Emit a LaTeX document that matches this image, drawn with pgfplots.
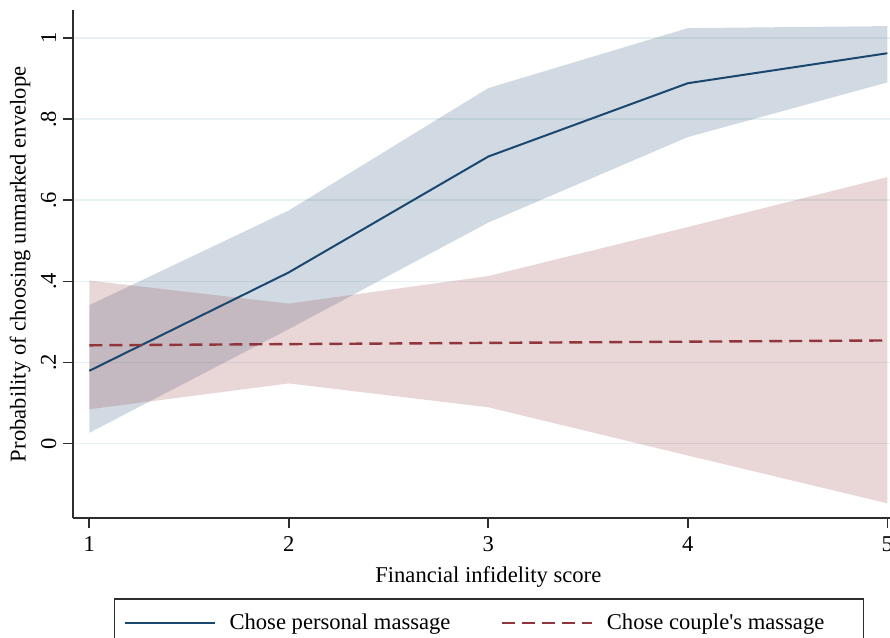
\documentclass[border=0pt]{standalone}
\usepackage{fontspec}
\setmainfont{Liberation Serif}
\newfontfamily\nomap{Liberation Serif}
\usepackage{pgfplots}
\pgfplotsset{compat=1.18}
\definecolor{navy}{RGB}{26,71,111}
\definecolor{maroon}{RGB}{144,53,59}
\definecolor{gridc}{RGB}{231,241,243}
\definecolor{axc}{RGB}{45,45,45}
\newcommand{\fs}{\fontsize{11.3}{13.5}\selectfont}
\begin{document}
\begin{tikzpicture}
\begin{axis}[
 name=ax, at={(0,0)}, anchor=south west,
 scale only axis, width=415pt, height=254pt,
 xmin=0.92, xmax=5.08, ymin=-0.185, ymax=1.069,
 axis x line*=bottom, axis y line*=left,
 axis line style={axc, line width=0.9pt, -},
 xtick={1,2,3,4,5}, ytick={0,0.2,0.4,0.6,0.8,1},
 yticklabels={0,.2,.4,.6,.8,1},
 tick align=outside, major tick length=5pt,
 tick style={axc, line width=0.8pt},
 ymajorgrids, major grid style={gridc, line width=0.8pt},
 tick label style={font=\fs},
 /pgf/number format/assume math mode=true,
 yticklabel style={rotate=90, anchor=south},
 xticklabel style={yshift=-0.5pt},
 xlabel={Financial infidelity score},
 ylabel={Probability of choosing unmarked envelope},
 label style={font=\fs},
 xlabel style={at={(axis description cs:0.5,-0.1156)}, anchor=center},
 ylabel style={at={(axis description cs:-0.0642,0.5)}, anchor=center},
 legend style={at={(0.049,-0.1575)}, anchor=north west, draw=axc, line width=0.6pt,
   font=\fs, inner xsep=4.5pt, inner ysep=5.5pt,
   /tikz/every odd column/.append style={column sep=5pt},
   /tikz/every even column/.append style={column sep=23pt}},
 legend columns=2, legend cell align=left,
 legend image code/.code={\draw[#1] (0pt,0pt) -- (45pt,0pt);},
]
% blue CI
\addplot[draw=none, fill=navy, fill opacity=0.2, forget plot] coordinates {
 (1,0.341) (2,0.575) (3,0.877) (4,1.025) (5,1.030)
 (5,0.891) (4,0.756) (3,0.545) (2,0.282) (1,0.026)} -- cycle;
% red CI
\addplot[draw=none, fill=maroon, fill opacity=0.2, forget plot] coordinates {
 (1,0.402) (2,0.345) (3,0.413) (4,0.534) (5,0.657)
 (5,-0.148) (4,-0.030) (3,0.089) (2,0.148) (1,0.084)} -- cycle;
\addplot[navy, line width=1pt] coordinates {
 (1,0.179) (2,0.422) (3,0.708) (4,0.889) (5,0.963)};
\addlegendentry{Chose personal massage}
\addplot[maroon, line width=1.2pt, dash pattern=on 6.5pt off 3.5pt] coordinates {
 (1,0.242) (2,0.245) (3,0.248) (4,0.251) (5,0.254)};
\addlegendentry{Chose couple{\nomap '}s massage\hspace*{13pt}\mbox{}}
\end{axis}
\pgfresetboundingbox
\useasboundingbox (-36.65pt,-59.85pt) rectangle (408.35pt,259.15pt);
\end{tikzpicture}
\end{document}
